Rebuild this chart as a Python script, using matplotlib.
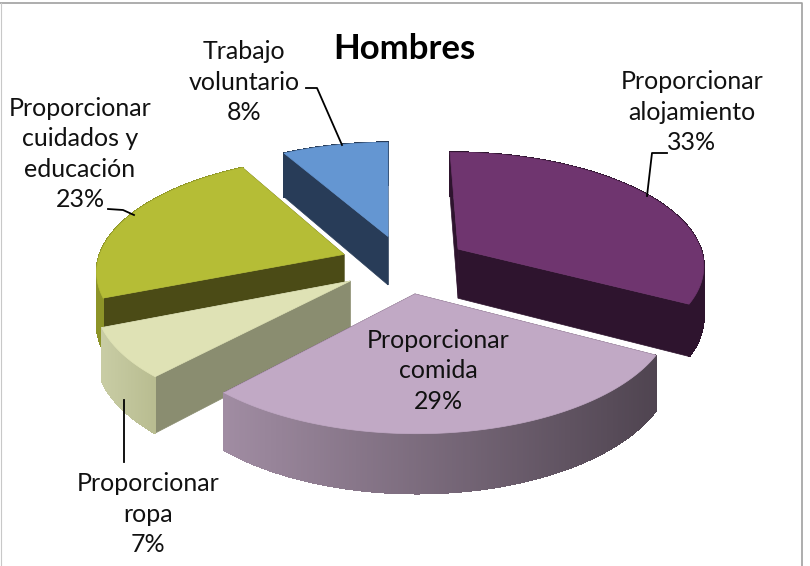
import numpy as np
import matplotlib
matplotlib.use('Agg')
import matplotlib.pyplot as plt
from matplotlib.colors import to_rgb
from matplotlib.patches import Polygon

plt.rcParams['font.family'] = ['Lato', 'DejaVu Sans']

categories = ['Proporcionar\nalojamiento', 'Proporcionar\ncomida', 'Proporcionar\nropa',
              'Proporcionar\ncuidados y\neducación', 'Trabajo\nvoluntario']
values = [33, 29, 7, 23, 8]
tops = ['#6f356f', '#c1a9c5', '#dfe2b5', '#b5bd36', '#6496d2']
cuts = ['#2e142e', '#2e142e', '#8a8d70', '#4b4b16', '#283c58']
rim_left = ['#2e142e', '#a08ca2', '#c8cca4', '#8d9428', '#283c58']
rim_right = ['#2e142e', '#4f4450', '#b8bc90', '#8d9428', '#283c58']
label_xy = [(692, 112), (438, 371), (148, 514), (80, 154), (244, 82)]
leaders = [[(667, 153), (652, 153), (647, 196)], None, [(124, 462), (124, 400)],
           [(108, 209), (123, 210), (134, 215)], [(306, 88), (317, 88), (342, 145)]]

# pie geometry in screen pixels
cx, cy = 404, 264
rx, ry = 247, 113
persp = 0.13
depth = 50
explode = 0.26
start = -0.5


def project(u, v, h=0.0):
    s = 1 + persp * v
    return cx + rx * u / s, cy - ry * v / s + depth * h / s


def wedge_xy(a0, a1, mid, h=0.0, n=240):
    ox, oy = explode * np.sin(mid), explode * np.cos(mid)
    t = np.linspace(a0, a1, n)
    x, y = project(ox + np.sin(t), oy + np.cos(t), h)
    ax0, ay0 = project(ox, oy, h)
    return ax0, ay0, x, y


fig = plt.figure(figsize=(8.10, 5.66), dpi=100)
ax = fig.add_axes([0, 0, 1, 1])
ax.set_xlim(0, 810)
ax.set_ylim(566, 0)
ax.axis('off')

ax.plot([0, 802, 802], [3, 3, 566], color='#a0a0a0', lw=1.2)
ax.plot([0.5, 0.5], [3, 566], color='#c8c8c8', lw=0.8)

for pts in leaders:
    if pts:
        ax.plot(*zip(*pts), color='black', lw=1.3)

edges = np.cumsum([0] + values) / 100 * 2 * np.pi + np.radians(start)
# back to front
for i in [4, 3, 0, 2, 1]:
    a0, a1 = edges[i], edges[i + 1]
    mid = (a0 + a1) / 2
    ax0, ay0, x, y = wedge_xy(a0, a1, mid)
    bx0, by0, xb, yb = wedge_xy(a0, a1, mid, 1.0)
    # flat cut faces
    for j in [0, -1]:
        ax.add_patch(Polygon([(ax0, ay0), (x[j], y[j]), (xb[j], yb[j]), (bx0, by0)],
                             fc=cuts[i], ec=cuts[i], lw=0.5))
    # outer rim, shaded left to right
    c0, c1 = np.array(to_rgb(rim_left[i])), np.array(to_rgb(rim_right[i]))
    for j in range(len(x) - 1):
        f = np.clip((min(x[j], x[j + 1]) - x.min()) / (x.max() - x.min()), 0, 1)
        col = c0 + (c1 - c0) * f
        ax.add_patch(Polygon([(x[j], y[j]), (x[j + 1], y[j + 1]), (xb[j + 1], yb[j + 1]), (xb[j], yb[j])],
                             fc=col, ec=col, lw=0.8, antialiased=False))
    ax.add_patch(Polygon(np.column_stack([np.r_[ax0, x], np.r_[ay0, y]]), fc=tops[i], ec=tops[i], lw=0.5))

for cat, val, (tx, ty) in zip(categories, values, label_xy):
    ax.text(tx, ty, f'{cat}\n{val}%', ha='center', va='center', fontsize=18, color='#111111', linespacing=1.395)

ax.text(404, 49, 'Hombres', ha='center', va='center', fontsize=25, fontweight='bold', color='black')

fig.savefig('out.png', dpi=100)
